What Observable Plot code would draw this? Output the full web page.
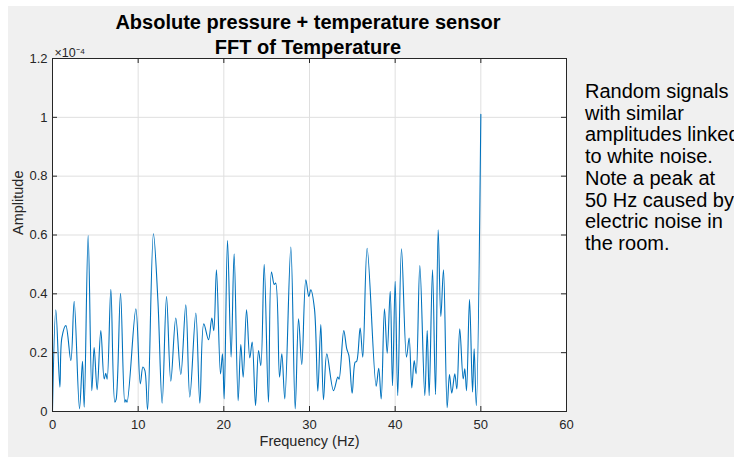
<!DOCTYPE html>
<html>
<head>
<meta charset="utf-8">
<script src="https://cdn.jsdelivr.net/npm/d3@7"></script>
<script src="https://cdn.jsdelivr.net/npm/@observablehq/plot@0.6"></script>
<style>
  html, body { margin: 0; padding: 0; background: #ffffff; overflow: hidden; }
  #page { position: relative; width: 734px; height: 457px; overflow: hidden; font-family: "Liberation Sans", Arial, Helvetica, sans-serif; }
  #figure { position: absolute; left: 8px; top: 6px; width: 726px; height: 451px; background: #f0f0f0; }
  #chart { position: absolute; left: 0; top: 0; }
  #title { position: absolute; left: 0; top: 10px; width: 616px; text-align: center; font-weight: bold; font-size: 20px; line-height: 25px; color: #000; }
  #note { position: absolute; left: 585px; top: 81px; font-size: 20px; line-height: 21.7px; color: #000; white-space: nowrap; }
</style>
</head>
<body>
<div id="page">
  <div id="figure"></div>
  <div id="chart"></div>
  <div id="title">Absolute pressure + temperature sensor<br>FFT of Temperature</div>
  <div id="note">Random signals<br>with similar<br>amplitudes linked<br>to white noise.<br>Note a peak at<br>50 Hz caused by<br>electric noise in<br>the room.</div>
</div>
<script>
// Single-sided FFT amplitude spectrum of the temperature channel (amplitude in units of 1e-4)
const freq = [
  0, 0.39, 0.86, 1.09, 1.56, 2.14, 2.53, 3.15, 3.5, 3.7,
  4.16, 4.59, 4.86, 5.21, 5.64, 6.03, 6.22, 6.38, 6.81, 7.28,
  7.42, 7.94, 8.44, 8.55, 8.7, 9.73, 10.25, 10.55, 10.78, 11.1,
  11.78, 12.3, 12.8, 13.31, 13.81, 14.39, 14.98, 15.56, 16.03, 16.73,
  17.2, 17.66, 18.21, 18.6, 18.83, 19.14, 19.61, 19.84, 20.04, 20.43,
  20.85, 21.2, 21.67, 21.98, 22.26, 22.65, 23.03, 23.31, 23.7, 24.05,
  24.32, 24.71, 25.21, 25.56, 25.88, 26.05, 26.5, 26.77, 27.12, 27.82,
  28.33, 28.72, 29.1, 29.57, 29.92, 30.15, 30.58, 30.97, 31.32, 31.63,
  32.02, 32.8, 33.3, 33.45, 34.0, 34.35, 34.6, 34.98, 35.33, 35.5,
  35.91, 36.22, 36.73, 37.78, 38.08, 38.37, 38.75, 39.07, 39.42, 39.69,
  40.0, 40.3, 40.74, 41.32, 41.63, 41.94, 42.22, 42.45, 42.88, 43.46,
  43.74, 43.97, 44.36, 44.71, 45.02, 45.33, 45.64, 46.07, 46.34, 46.61,
  46.96, 47.2, 47.54, 47.94, 48.13, 48.33, 48.68, 49.03, 49.22, 49.47,
  50.0
];
const amplitude = [
  0.0, 0.346, 0.083, 0.25, 0.292, 0.173, 0.375, 0.009, 0.171, 0.015,
  0.598, 0.071, 0.217, 0.074, 0.275, 0.111, 0.13, 0.11, 0.415, 0.032,
  0.04, 0.402, 0.032, 0.04, 0.032, 0.349, 0.094, 0.151, 0.14, 0.006,
  0.604, 0.38, 0.028, 0.391, 0.103, 0.318, 0.126, 0.363, 0.049, 0.335,
  0.028, 0.298, 0.244, 0.318, 0.275, 0.482, 0.128, 0.196, 0.043, 0.581,
  0.185, 0.536, 0.037, 0.228, 0.117, 0.346, 0.182, 0.236, 0.02, 0.207,
  0.156, 0.5, 0.032, 0.474, 0.432, 0.437, 0.117, 0.196, 0.043, 0.559,
  0.009, 0.315, 0.16, 0.448, 0.391, 0.414, 0.349, 0.069, 0.296, 0.04,
  0.196, 0.071, 0.117, 0.11, 0.275, 0.213, 0.19, 0.062, 0.168, 0.17,
  0.284, 0.185, 0.555, 0.086, 0.147, 0.043, 0.349, 0.198, 0.409, 0.088,
  0.443, 0.054, 0.553, 0.185, 0.25, 0.08, 0.173, 0.128, 0.496, 0.054,
  0.275, 0.054, 0.482, 0.058, 0.618, 0.323, 0.482, 0.013, 0.126, 0.062,
  0.128, 0.077, 0.281, 0.111, 0.145, 0.071, 0.381, 0.066, 0.213, 0.02,
  1.01
];
const xTicks = [0, 10, 20, 30, 40, 50, 60];
const yTicks = [0, 0.2, 0.4, 0.6, 0.8, 1.0, 1.2];
const xLabel = "Frequency (Hz)";
const yLabel = "Amplitude";
const yExponent = "×10⁻⁴";

const spectrum = freq.map((f, i) => ({f, a: amplitude[i]}));

const W = 734, H = 457;
const mL = 52, mR = 168, mT = 58, mB = 46;
const innerW = W - mL - mR, innerH = H - mT - mB;
const tickLen = 5;
const axisColor = "#262626";

const chart = Plot.plot({
  width: W,
  height: H,
  marginLeft: mL,
  marginRight: mR,
  marginTop: mT,
  marginBottom: mB,
  style: {
    fontFamily: '"Liberation Sans", Arial, Helvetica, sans-serif',
    fontSize: "13px",
    color: axisColor,
    background: "transparent",
    overflow: "visible"
  },
  x: {domain: [0, 60]},
  y: {domain: [0, 1.2]},
  marks: [
    Plot.frame({fill: "white", stroke: null}),
    Plot.gridX(xTicks, {stroke: "#dfdfdf", strokeOpacity: 1}),
    Plot.gridY(yTicks, {stroke: "#dfdfdf", strokeOpacity: 1}),
    Plot.line(spectrum, {x: "f", y: "a", stroke: "#0072BD", strokeWidth: 1.1, curve: "catmull-rom"}),
    Plot.frame({stroke: axisColor, strokeWidth: 1}),
    // inward tick marks on all four sides of the box
    Plot.tickX(xTicks, {x: d => d, insetTop: innerH - tickLen, stroke: axisColor}),
    Plot.tickX(xTicks, {x: d => d, insetBottom: innerH - tickLen, stroke: axisColor}),
    Plot.tickY(yTicks, {y: d => d, insetRight: innerW - tickLen, stroke: axisColor}),
    Plot.tickY(yTicks, {y: d => d, insetLeft: innerW - tickLen, stroke: axisColor}),
    Plot.axisX(xTicks, {tickSize: 0, tickPadding: 8, label: null, fill: axisColor}),
    Plot.axisY(yTicks, {tickSize: 0, tickPadding: 5, label: null, fill: axisColor,
      tickFormat: d => String(+d.toFixed(1))}),
    Plot.text([xLabel], {frameAnchor: "bottom", dy: 34, fontSize: 14.5, fill: axisColor}),
    Plot.text([yLabel], {frameAnchor: "left", dx: -34, rotate: -90, fontSize: 14.5, fill: axisColor}),
    Plot.text([yExponent], {frameAnchor: "top-left", textAnchor: "start", lineAnchor: "bottom", dx: 2, dy: -2, fontSize: 12.5, fill: axisColor})
  ]
});
document.getElementById("chart").appendChild(chart);
</script>
</body>
</html>
